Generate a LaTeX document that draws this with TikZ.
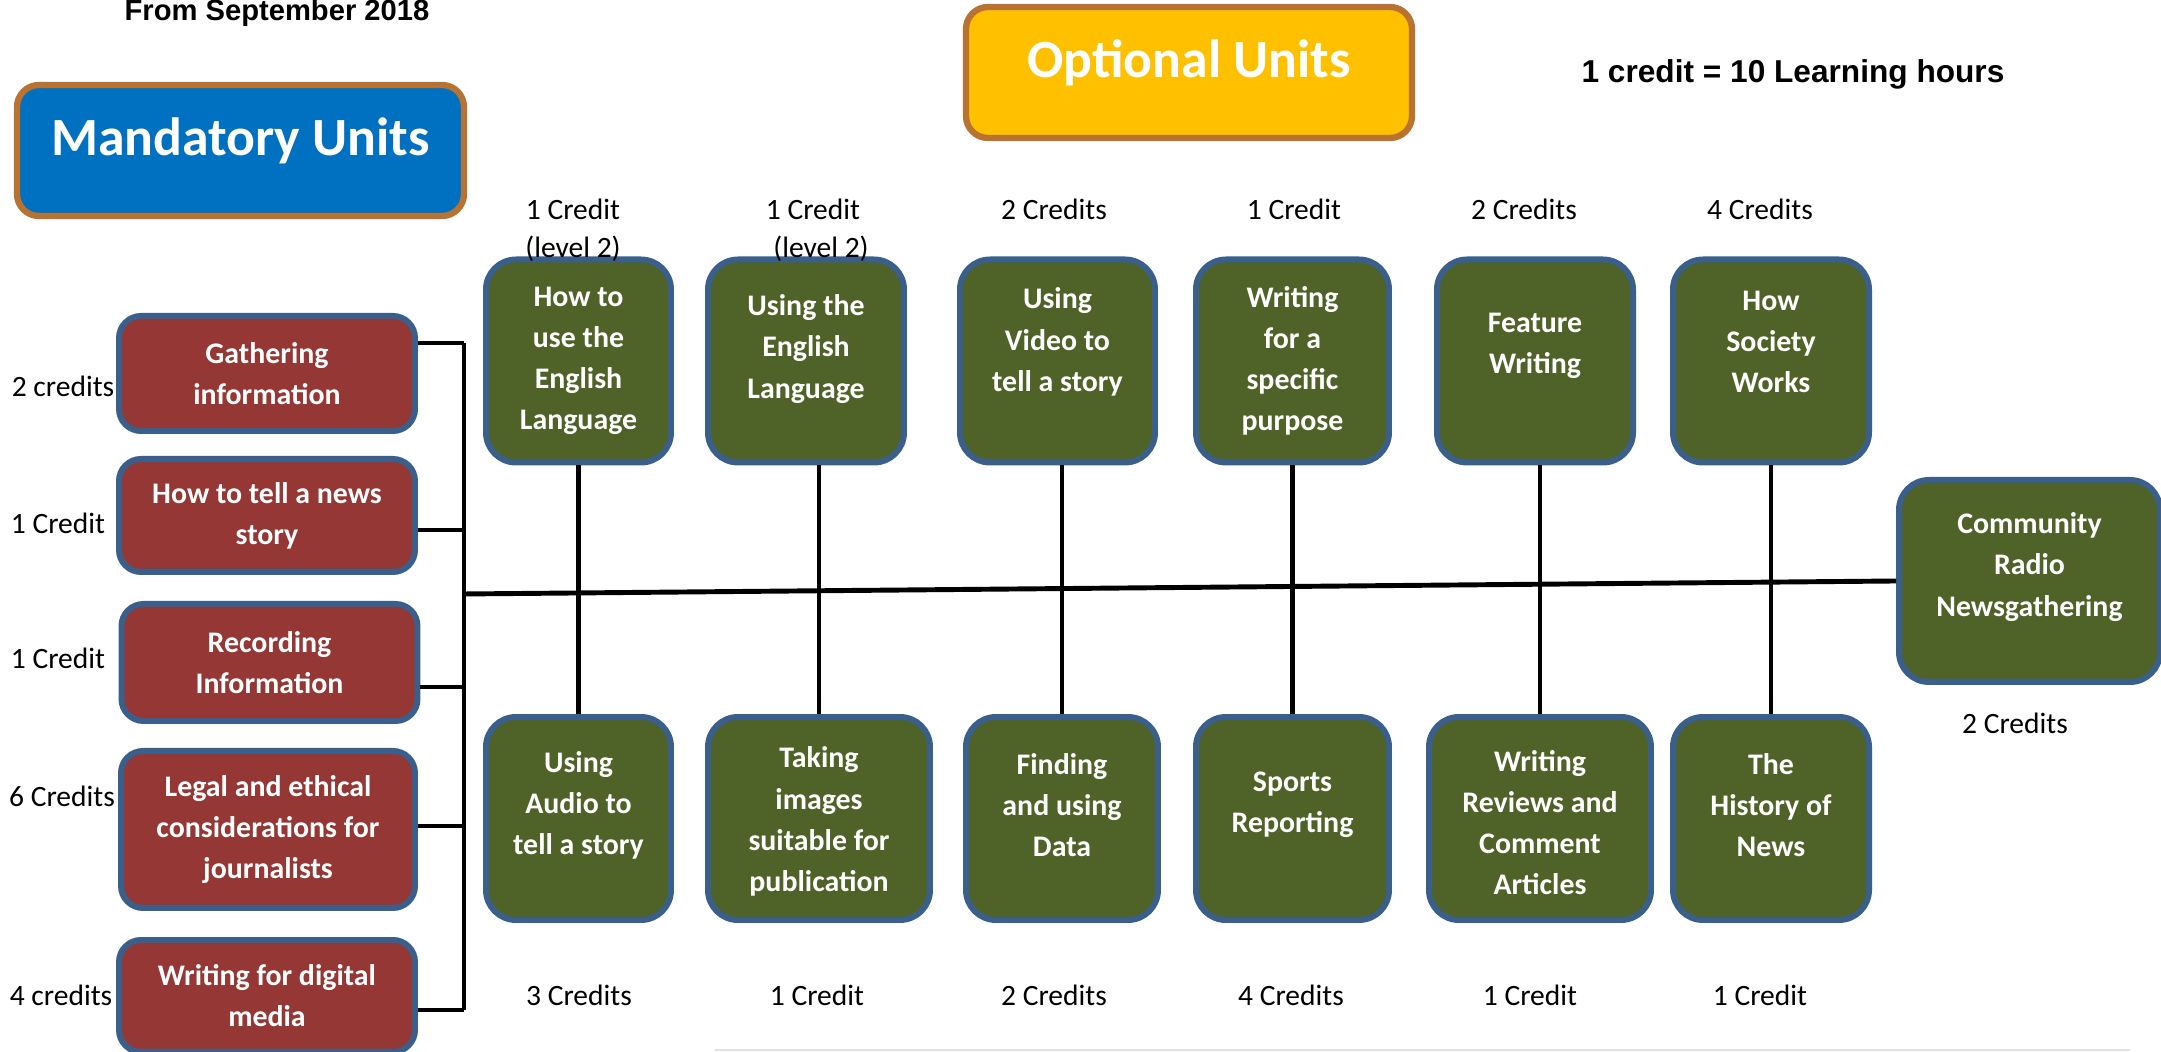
\documentclass[tikz,border=0pt]{standalone}
\usepackage{fontspec}
\setmainfont{Carlito}
\newfontfamily\headfont{Liberation Sans}
\newcommand{\unitfont}{\fontsize{8.5}{11.7}\selectfont\bfseries}
\newcommand{\creditfont}{\fontsize{8.4}{10}\selectfont}
\newcommand{\titlefont}{\fontsize{15.3}{18}\selectfont\bfseries}
\definecolor{mandred}{HTML}{953735}
\definecolor{optgreen}{HTML}{4F6228}
\definecolor{edgeblue}{HTML}{3A5F8B}
\definecolor{titleblue}{HTML}{0070C0}
\definecolor{titleyellow}{HTML}{FFC000}
\definecolor{titlebrown}{HTML}{B87333}
\tikzset{
  unit/.style={draw=edgeblue, line width=1.7pt, rounded corners=0.22cm, text=white, align=center, font=\unitfont},
  mandunit/.style={unit, fill=mandred, minimum width=2.96cm},
  optunit/.style={unit, fill=optgreen, minimum height=2.03cm, rounded corners=0.3cm},
  unittext/.style={text=white, align=center, font=\unitfont},
  title/.style={draw=titlebrown, line width=1.8pt, rounded corners=0.22cm, text=white, font=\titlefont,
    minimum width=4.46cm, minimum height=1.31cm, text height=0.34cm, text depth=0.24cm},
  credit/.style={font=\creditfont},
  link/.style={line width=1.4pt},
}
\begin{document}
\begin{tikzpicture}[x=1cm,y=-1cm]
\clip (0,0) rectangle (21.61,10.52);

% Headings
\node[font=\headfont\bfseries\fontsize{8.3}{10}\selectfont, anchor=base] (since) at (2.77,0.21) {From September 2018};
\node[font=\headfont\bfseries\fontsize{9}{11}\selectfont, anchor=base] (rate) at (17.93,0.83) {1 credit = 10 Learning hours};
\node[title, fill=titleblue, minimum width=4.47cm] (mand) at (2.405,1.505) {Mandatory Units};
\node[title, fill=titleyellow] (opt) at (11.89,0.725) {Optional Units};

% Mandatory units
\node[mandunit, minimum height=1.15cm] (m1) at (2.67,3.735) {Gathering\\information};
\node[mandunit, minimum height=1.13cm] (m2) at (2.67,5.155) {How to tell a news\\story};
\node[mandunit, minimum height=1.17cm] (m3) at (2.695,6.625) {Recording\\Information};
\node[mandunit, minimum height=1.57cm, minimum width=2.94cm] (m4) at (2.68,8.295) {Legal and ethical\\considerations for\\journalists};
\node[mandunit, minimum height=1.12cm] (m5) at (2.67,9.96) {Writing for digital\\media};

\node[credit] (m1c) at (0.63,3.86) {2 credits};
\node[credit] (m2c) at (0.58,5.23) {1 Credit};
\node[credit] (m3c) at (0.58,6.58) {1 Credit};
\node[credit] (m4c) at (0.62,7.96) {6 Credits};
\node[credit] (m5c) at (0.61,9.95) {4 credits};

% Bus joining the mandatory units
\coordinate (b1) at (4.64,3.43);
\coordinate (b2) at (4.64,5.30);
\coordinate (b3) at (4.64,6.87);
\coordinate (b4) at (4.64,8.26);
\coordinate (b5) at (4.64,10.10);
\coordinate (hub) at (4.64,5.94);
\draw[link] (b1) -- (b5);
\draw[link] (m1.east |- b1) -- (b1);
\draw[link] (m2.east |- b2) -- (b2);
\draw[link] (m3.east |- b3) -- (b3);
\draw[link] (m4.east |- b4) -- (b4);
\draw[link] (m5.east |- b5) -- (b5);

% Optional units, top row
\node[optunit, minimum width=1.85cm] (o1) at (5.785,3.61) {};
\node[optunit, minimum width=1.96cm] (o2) at (8.06,3.61) {};
\node[optunit, minimum width=1.95cm] (o3) at (10.575,3.61) {};
\node[optunit, minimum width=1.93cm] (o4) at (12.925,3.61) {};
\node[optunit, minimum width=1.96cm] (o5) at (15.35,3.61) {};
\node[optunit, minimum width=1.96cm] (o6) at (17.71,3.61) {};
\node[unittext] (o1t) at (o1.center) {How to\\use the\\English\\Language};
\node[unittext] (o2t) at ([yshift=0.12cm]o2.center) {Using the\\English\\Language};
\node[unittext] (o3t) at ([yshift=0.19cm]o3.center) {Using\\Video to\\tell a story};
\node[unittext] (o4t) at (o4.center) {Writing\\for a\\specific\\purpose};
\node[unittext] (o5t) at ([yshift=0.15cm]o5.center) {Feature\\Writing};
\node[unittext] (o6t) at ([yshift=0.19cm]o6.center) {How\\Society\\Works};

% Optional units, bottom row
\node[optunit, minimum width=1.85cm] (u1) at (5.785,8.185) {};
\node[optunit, minimum width=2.22cm] (u2) at (8.19,8.185) {};
\node[optunit, minimum width=1.92cm] (u3) at (10.62,8.185) {};
\node[optunit, minimum width=1.93cm] (u4) at (12.925,8.185) {};
\node[optunit, minimum width=2.22cm] (u5) at (15.40,8.185) {};
\node[optunit, minimum width=1.96cm] (u6) at (17.71,8.185) {};
\node[unittext] (u1t) at ([yshift=0.13cm]u1.center) {Using\\Audio to\\tell a story};
\node[unittext] (u2t) at ([yshift=-0.03cm]u2.center) {Taking\\images\\suitable for\\publication};
\node[unittext] (u3t) at ([yshift=0.13cm]u3.center) {Finding\\and using\\Data};
\node[unittext] (u4t) at ([yshift=0.14cm]u4.center) {Sports\\Reporting};
\node[unittext] (u5t) at ([yshift=-0.04cm]u5.center) {Writing\\Reviews and\\Comment\\Articles};
\node[unittext] (u6t) at ([yshift=0.13cm]u6.center) {The\\History of\\News};

% Community radio unit
\node[optunit, minimum width=2.61cm, minimum height=2.02cm] (radio) at (20.295,5.81) {};
\node[unittext] (radiot) at ([yshift=0.14cm]radio.center) {Community\\Radio\\Newsgathering};
\node[credit] (radioc) at (20.15,7.23) {2 Credits};

% Credits of optional units
\node[credit] (o1c) at (5.73,2.09) {1 Credit};
\node[credit] (o1l) at (5.73,2.49) {(level 2)};
\node[credit] (o2c) at (8.13,2.09) {1 Credit};
\node[credit] (o2l) at (8.21,2.49) {(level 2)};
\node[credit] (o3c) at (10.54,2.09) {2 Credits};
\node[credit] (o4c) at (12.94,2.09) {1 Credit};
\node[credit] (o5c) at (15.24,2.09) {2 Credits};
\node[credit] (o6c) at (17.60,2.09) {4 Credits};
\node[credit] (u1c) at (5.79,9.95) {3 Credits};
\node[credit] (u2c) at (8.17,9.95) {1 Credit};
\node[credit] (u3c) at (10.54,9.95) {2 Credits};
\node[credit] (u4c) at (12.91,9.95) {4 Credits};
\node[credit] (u5c) at (15.30,9.95) {1 Credit};
\node[credit] (u6c) at (17.60,9.95) {1 Credit};

% Links between the rows
\draw[link] (hub) -- (radio.west);
\draw[link] (u1.north) -- (u1.north |- o1.south);
\draw[link] (u2.north) -- (u2.north |- o2.south);
\draw[link] (u3.north) -- (u3.north |- o3.south);
\draw[link] (u4.north) -- (u4.north |- o4.south);
\draw[link] (u5.north) -- (u5.north |- o5.south);
\draw[link] (u6.north) -- (u6.north |- o6.south);

\draw[black!12, line width=0.8pt] (7.15,10.50) -- (21.30,10.50);
\end{tikzpicture}
\end{document}
